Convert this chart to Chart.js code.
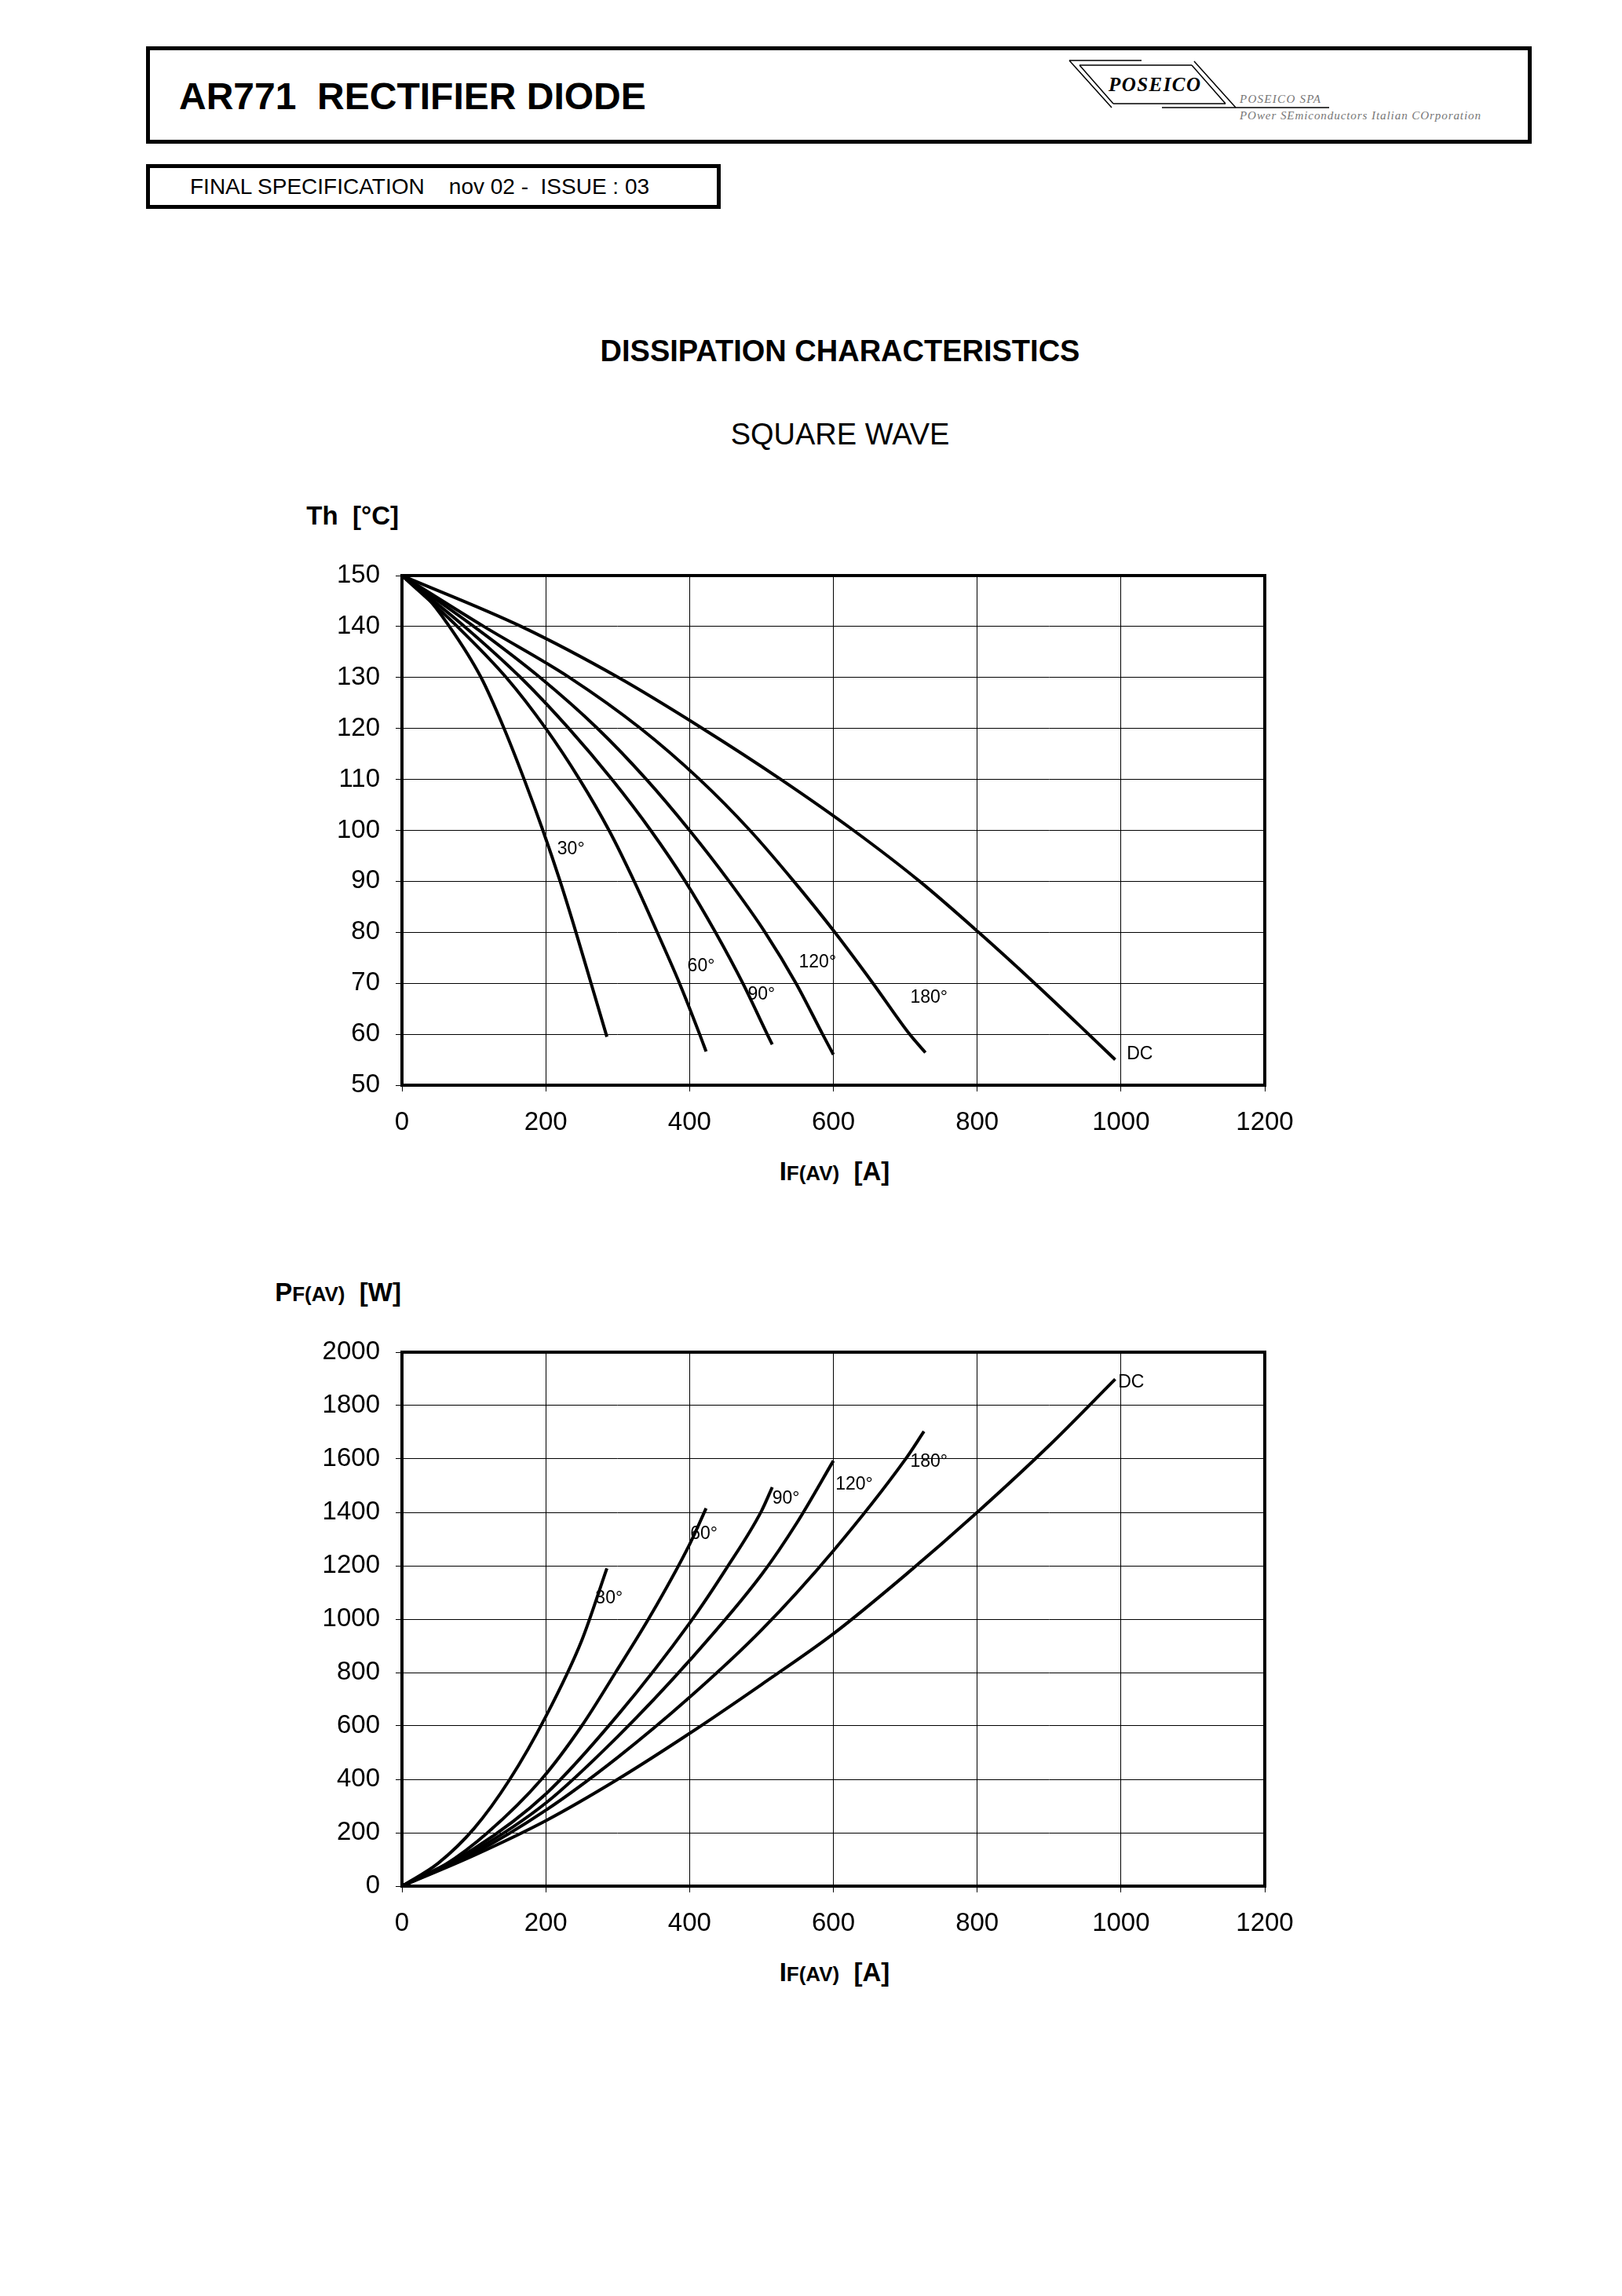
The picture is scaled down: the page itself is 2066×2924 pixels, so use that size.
<!DOCTYPE html>
<html>
<head>
<meta charset="utf-8">
<title>AR771 Dissipation characteristics</title>
<script src="https://cdn.jsdelivr.net/npm/chart.js@4.4.0/dist/chart.umd.min.js"></script>
<style>
	body { margin: 0; background: #fff; }
	#page { position: relative; width: 2066px; height: 2924px; font-family: "Liberation Sans", Arial, sans-serif; }
	#sheet { position: absolute; left: 0; top: 0; }
	canvas { position: absolute; }
</style>
</head>
<body>
<div id="page">
<svg id="sheet" width="2066" height="2924" font-family="Liberation Sans, Arial, sans-serif">
	<rect x="188.5" y="61.5" width="1760" height="119" fill="none" stroke="#000" stroke-width="5"/>
	<text x="228" y="139" font-size="48" font-weight="bold" xml:space="preserve">AR771  RECTIFIER DIODE</text>
	<g stroke="#000" stroke-width="1.5" fill="none">
		<path d="M1362 77 L1454 77 M1375 83 L1518 83 M1418 132 L1561 132 M1480 137 L1693 137"/>
		<path d="M1362 77 L1416 137 M1375 83 L1418 132 M1518 83 L1561 132 M1521 78 L1574 137"/>
	</g>
	<text x="1412" y="116" font-family="Liberation Serif, serif" font-size="25" font-weight="bold" font-style="italic" textLength="117">POSEICO</text>
	<text x="1579" y="131" font-family="Liberation Serif, serif" font-size="15" font-style="italic" fill="#777" textLength="103">POSEICO SPA</text>
	<text x="1579" y="152" font-family="Liberation Serif, serif" font-size="15" font-style="italic" fill="#777" textLength="307">POwer SEmiconductors Italian COrporation</text>
	<rect x="188.5" y="211.5" width="727" height="52" fill="none" stroke="#000" stroke-width="5"/>
	<text x="242" y="247" font-size="28" xml:space="preserve">FINAL SPECIFICATION    nov 02 -  ISSUE : 03</text>
	<text x="1070" y="460" font-size="38" font-weight="bold" text-anchor="middle">DISSIPATION CHARACTERISTICS</text>
	<text x="1070" y="566" font-size="38" text-anchor="middle">SQUARE WAVE</text>
	<text x="508" y="668" font-size="33" font-weight="bold" text-anchor="end" xml:space="preserve">Th  [°C]</text>
	<text x="1063" y="1503" font-size="33" font-weight="bold" text-anchor="middle" xml:space="preserve">I<tspan font-size="26">F(AV)</tspan>  [A]</text>
	<text x="511" y="1657" font-size="33" font-weight="bold" text-anchor="end" xml:space="preserve">P<tspan font-size="26">F(AV)</tspan>  [W]</text>
	<text x="1063" y="2523" font-size="33" font-weight="bold" text-anchor="middle" xml:space="preserve">I<tspan font-size="26">F(AV)</tspan>  [A]</text>
</svg>
<canvas id="heatsink-temp" width="1291" height="762" style="left:380px;top:700px;width:1291px;height:762px"></canvas>
<canvas id="power-loss" width="1291" height="793" style="left:380px;top:1689px;width:1291px;height:793px"></canvas>
</div>
<script>
// conduction angles, one curve each
const curveNames = ["30°", "60°", "90°", "120°", "180°", "DC"]

// heatsink temperature Th [°C] against IF(AV) [A]
const thCurrent30 = [0, 30, 66, 110, 142, 170, 196, 220, 242, 263, 285]
const thTemp30 = [150, 146.5, 140, 130, 120, 110, 100, 90, 80, 70, 59.5]
const thCurrent60 = [0, 77, 145, 200, 247, 288, 323, 355, 386, 414, 423]
const thTemp60 = [150, 140, 130, 120, 110, 100, 90, 80, 70, 60, 56.6]
const thCurrent90 = [0, 87, 165, 232, 292, 346, 394, 436, 474, 508, 515]
const thTemp90 = [150, 140, 130, 120, 110, 100, 90, 80, 70, 60, 58]
const thCurrent120 = [0, 100, 192, 272, 340, 400, 455, 505, 548, 585, 600]
const thTemp120 = [150, 140, 130, 120, 110, 100, 90, 80, 70, 60, 56]
const thCurrent180 = [0, 114, 233, 332, 414, 484, 545, 602, 655, 706, 728]
const thTemp180 = [150, 140, 130, 120, 110, 100, 90, 80, 70, 60, 56.4]
const thCurrentDC = [0, 166, 301, 418, 527, 628, 720, 802, 880, 955, 992]
const thTempDC = [150, 140, 130, 120, 110, 100, 90, 80, 70, 60, 55]

// forward power loss PF(AV) [W] against IF(AV) [A]
const pfCurrent30 = [0, 50, 100, 150, 200, 250, 285]
const pfPower30 = [0, 85, 215, 400, 635, 920, 1190]
const pfCurrent60 = [0, 60, 119, 194, 250, 297, 345, 400, 423]
const pfPower60 = [0, 80, 200, 400, 600, 800, 1010, 1280, 1415]
const pfCurrent90 = [0, 100, 200, 300, 400, 450, 500, 515]
const pfPower90 = [0, 140, 345, 640, 985, 1185, 1405, 1494]
const pfCurrent120 = [0, 100, 200, 300, 400, 500, 550, 600]
const pfPower120 = [0, 131, 311, 560, 845, 1166, 1364, 1593]
const pfCurrent180 = [0, 100, 200, 300, 400, 500, 600, 700, 726]
const pfPower180 = [0, 122, 284, 482, 707, 959, 1256, 1598, 1703]
const pfCurrentDC = [0, 100, 200, 300, 400, 500, 600, 700, 800, 900, 992]
const pfPowerDC = [0, 115, 245, 400, 572, 755, 945, 1165, 1400, 1650, 1899]

// where the angle captions sit, in axis units
const thLabelCurrent = [216, 397, 481, 552, 707, 1008]
const thLabelTemp = [96.3, 73.3, 67.8, 74.1, 67.2, 56]
const pfLabelCurrent = [269, 401, 515, 603, 707, 996]
const pfLabelPower = [1077, 1319, 1451, 1505, 1588, 1885]

Chart.defaults.font.family = "'Liberation Sans', Arial, sans-serif"
Chart.defaults.color = "#000"

const framePlugin = {
	id: "frame",
	afterDatasetsDraw(chart) {
		const ctx = chart.ctx
		const a = chart.chartArea
		ctx.save()
		ctx.lineWidth = 4
		ctx.strokeStyle = "#000"
		ctx.strokeRect(a.left, a.top, a.right - a.left, a.bottom - a.top)
		ctx.restore()
	}
}

const captionPlugin = {
	id: "captions",
	afterDraw(chart, args, opts) {
		const ctx = chart.ctx
		ctx.save()
		ctx.font = "23px 'Liberation Sans', Arial, sans-serif"
		ctx.fillStyle = "#000"
		ctx.textAlign = "left"
		ctx.textBaseline = "middle"
		opts.text.forEach((t, i) => {
			ctx.fillText(t, chart.scales.x.getPixelForValue(opts.x[i]), chart.scales.y.getPixelForValue(opts.y[i]))
		})
		ctx.restore()
	}
}

function curve(xs, ys) {
	return {
		data: xs.map((x, i) => ({ x: x, y: ys[i] })),
		showLine: true,
		borderColor: "#000",
		borderWidth: 4,
		pointRadius: 0,
		cubicInterpolationMode: "monotone"
	}
}

function axes(yMin, yMax, yStep) {
	return {
		x: {
			type: "linear",
			min: 0,
			max: 1200,
			ticks: { stepSize: 200, padding: 20, font: { size: 33 }, format: { useGrouping: false } },
			grid: { color: "#000", lineWidth: 1, tickLength: 8 },
			border: { display: false },
			afterFit: (scale) => {
				scale.height = 80
				scale.paddingLeft = 0
				scale.paddingRight = 0
			}
		},
		y: {
			type: "linear",
			min: yMin,
			max: yMax,
			ticks: { stepSize: yStep, padding: 20, font: { size: 33 }, format: { useGrouping: false } },
			grid: { color: "#000", lineWidth: 1, tickLength: 8 },
			border: { display: false },
			afterFit: (scale) => {
				scale.width = 132
				scale.paddingTop = 0
				scale.paddingBottom = 0
			}
		}
	}
}

new Chart(document.getElementById("heatsink-temp").getContext("2d"), {
	type: "scatter",
	data: {
		datasets: [
			curve(thCurrent30, thTemp30),
			curve(thCurrent60, thTemp60),
			curve(thCurrent90, thTemp90),
			curve(thCurrent120, thTemp120),
			curve(thCurrent180, thTemp180),
			curve(thCurrentDC, thTempDC)
		]
	},
	options: {
		responsive: false,
		animation: false,
		layout: { padding: { top: 33, right: 60, left: 0, bottom: 0 } },
		scales: axes(50, 150, 10),
		plugins: {
			legend: { display: false },
			tooltip: { enabled: false },
			captions: { text: curveNames, x: thLabelCurrent, y: thLabelTemp }
		}
	},
	plugins: [framePlugin, captionPlugin]
})

new Chart(document.getElementById("power-loss").getContext("2d"), {
	type: "scatter",
	data: {
		datasets: [
			curve(pfCurrent30, pfPower30),
			curve(pfCurrent60, pfPower60),
			curve(pfCurrent90, pfPower90),
			curve(pfCurrent120, pfPower120),
			curve(pfCurrent180, pfPower180),
			curve(pfCurrentDC, pfPowerDC)
		]
	},
	options: {
		responsive: false,
		animation: false,
		layout: { padding: { top: 33, right: 60, left: 0, bottom: 0 } },
		scales: axes(0, 2000, 200),
		plugins: {
			legend: { display: false },
			tooltip: { enabled: false },
			captions: { text: curveNames, x: pfLabelCurrent, y: pfLabelPower }
		}
	},
	plugins: [framePlugin, captionPlugin]
})
</script>
</body>
</html>
